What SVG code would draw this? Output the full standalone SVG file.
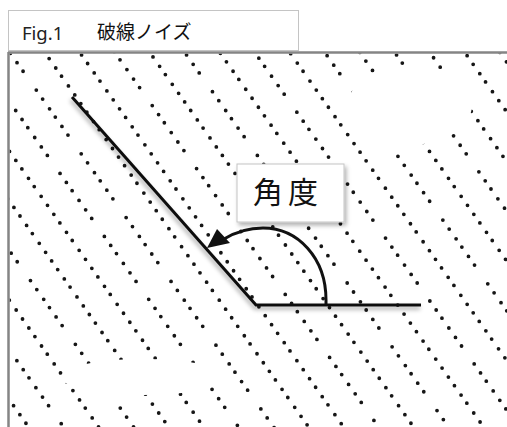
<svg xmlns="http://www.w3.org/2000/svg" width="507" height="427" viewBox="0 0 507 427">
<style>
.n{stroke:#161616;stroke-width:3.8;stroke-linecap:round;fill:none}
.a{stroke-dasharray:0 10.5 0 11.5 0 10 0 12 0 11 0 10.5}
.b{stroke-dasharray:0 11 0 10 0 12 0 11.5 0 10.5 0 22}
.c{stroke-dasharray:0 11 0 10.5 0 11.5 0 10 0 12 0 11}
.d{stroke-dasharray:0 10 0 11.5 0 10.5 0 23 0 11 0 12}
.frame{stroke:#858585;stroke-width:2.5;fill:none}
.box{fill:#fff;stroke:#c4c4c4;stroke-width:1}
.jp{font-family:"Noto Sans CJK JP","Noto Sans",sans-serif;fill:#111}
.line{stroke:#111;stroke-width:3;fill:none;stroke-linejoin:miter}
</style>
<defs>
<clipPath id="frameClip"><rect x="9.5" y="53.5" width="498" height="374"/></clipPath>
<mask id="blank" maskUnits="userSpaceOnUse" x="0" y="0" width="507" height="427">
<rect x="0" y="0" width="507" height="427" fill="#fff"/>
<ellipse cx="410" cy="105" rx="62" ry="40" fill="#000"/>
<ellipse cx="143" cy="377" rx="82" ry="18" fill="#000"/>
</mask>
<filter id="lineShadow" x="-10%" y="-10%" width="130%" height="130%">
<feDropShadow dx="-1" dy="3" stdDeviation="2" flood-color="#000" flood-opacity="0.35"/>
</filter>
<filter id="boxShadow" x="-10%" y="-10%" width="130%" height="130%">
<feDropShadow dx="2" dy="3" stdDeviation="2" flood-color="#000" flood-opacity="0.3"/>
</filter>
</defs>
<rect x="0" y="0" width="507" height="427" fill="#fff"/>

<g id="noise" clip-path="url(#frameClip)">
<g mask="url(#blank)">
<line class="n a" x1="-236.9" y1="50" x2="30.7" y2="430" stroke-dashoffset="2"/>
<line class="n b" x1="-201.9" y1="50" x2="65.7" y2="430" stroke-dashoffset="5"/>
<line class="n c" x1="-166.9" y1="50" x2="100.7" y2="430" stroke-dashoffset="1"/>
<line class="n d" x1="-131.9" y1="50" x2="135.7" y2="430" stroke-dashoffset="7"/>
<line class="n a" x1="-96.9" y1="50" x2="170.7" y2="430" stroke-dashoffset="4"/>
<line class="n c" x1="-61.9" y1="50" x2="205.7" y2="430" stroke-dashoffset="8"/>
<line class="n b" x1="-26.9" y1="50" x2="240.7" y2="430" stroke-dashoffset="3"/>
<line class="n d" x1="8.1" y1="50" x2="275.7" y2="430" stroke-dashoffset="6"/>
<line class="n a" x1="43.1" y1="50" x2="310.7" y2="430" stroke-dashoffset="0"/>
<line class="n c" x1="78.1" y1="50" x2="345.7" y2="430" stroke-dashoffset="5"/>
<line class="n b" x1="113.1" y1="50" x2="380.7" y2="430" stroke-dashoffset="9"/>
<line class="n a" x1="148.1" y1="50" x2="415.7" y2="430" stroke-dashoffset="2"/>
<line class="n d" x1="183.1" y1="50" x2="450.7" y2="430" stroke-dashoffset="4"/>
<line class="n c" x1="218.1" y1="50" x2="485.7" y2="430" stroke-dashoffset="7"/>
<line class="n b" x1="253.1" y1="50" x2="520.7" y2="430" stroke-dashoffset="1"/>
<line class="n a" x1="288.1" y1="50" x2="555.7" y2="430" stroke-dashoffset="6"/>
<line class="n d" x1="323.1" y1="50" x2="590.7" y2="430" stroke-dashoffset="3"/>
<line class="n c" x1="358.1" y1="50" x2="625.7" y2="430" stroke-dashoffset="8"/>
<line class="n b" x1="393.1" y1="50" x2="660.7" y2="430" stroke-dashoffset="5"/>
<line class="n a" x1="428.1" y1="50" x2="695.7" y2="430" stroke-dashoffset="1"/>
<line class="n c" x1="463.1" y1="50" x2="730.7" y2="430" stroke-dashoffset="4"/>
<line class="n d" x1="498.1" y1="50" x2="765.7" y2="430" stroke-dashoffset="7"/>
</g>
</g>

<g id="frame">
<line class="frame" x1="8" y1="52.5" x2="507" y2="52.5"/>
<line class="frame" x1="8.5" y1="52" x2="8.5" y2="427"/>
</g>

<g id="header">
<rect class="box" x="8.5" y="10.5" width="290" height="40"/>
<text x="22" y="40" font-family="'Noto Sans','Liberation Sans',sans-serif" font-size="18.5" fill="#222">Fig.1</text>
<text class="jp" x="97" y="39" font-size="19">破線ノイズ</text>
</g>

<g id="connectors">
<polyline class="line" points="72,97 256,305 421,305" filter="url(#lineShadow)"/>
<path class="line" d="M326,304 L326,300 C326,258 298,228 263,228 C247,228 234,233 224,239" stroke-width="2.6"/>
<polygon points="207,248 217,229 230,243" fill="#111"/>
</g>

<g id="label-angle">
<rect class="box" x="237" y="164" width="107" height="58" filter="url(#boxShadow)"/>
<text class="jp" x="253" y="203" font-size="30" letter-spacing="5">角度</text>
</g>
</svg>
